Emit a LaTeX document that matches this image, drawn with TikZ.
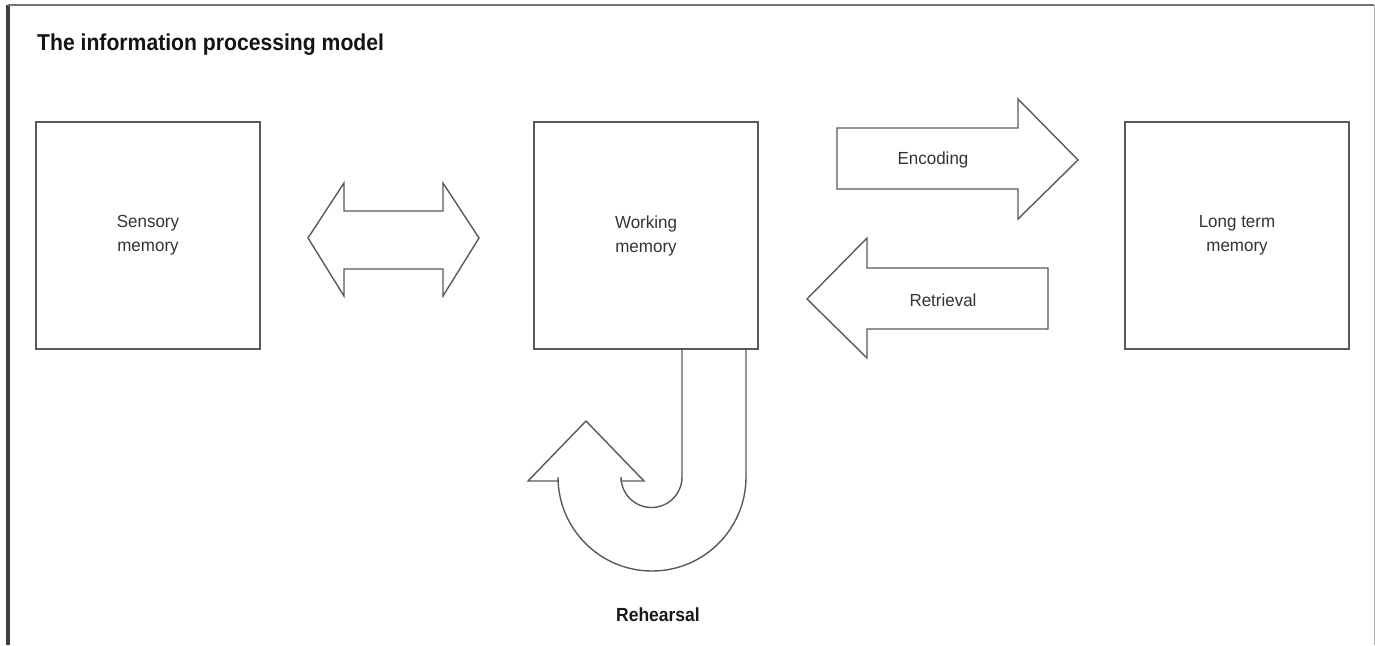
\documentclass[tikz,border=0pt]{standalone}
\usepackage{fontspec}
\setmainfont{Liberation Sans}
\newfontfamily\labfont[FakeStretch=0.97]{Liberation Sans}
\newfontfamily\boldcond[FakeStretch=0.92]{Liberation Sans Bold}
\begin{document}
\begin{tikzpicture}[x=1pt,y=-1pt,
  shapeline/.style={draw=black!65,line width=1.4pt,line join=miter},
  memorybox/.style={shapeline,minimum width=224pt,minimum height=227pt,inner sep=0pt,
     align=center,font=\labfont\fontsize{17.5}{24}\selectfont,text=black!80},
  lab/.style={font=\labfont\fontsize{17.5}{24}\selectfont,text=black!80,inner sep=0pt},
  boldlab/.style={font=\boldcond\fontsize{19}{22}\selectfont,text=black!90,inner sep=0pt}]
\useasboundingbox (0,0) rectangle (1375,645);
% frame
\fill[black!75] (6,5) rectangle (10,645);
\draw[black!55,line width=1.2pt] (8,5) -- (1374,5);
\draw[black!30,line width=1pt] (1374,5) -- (1374,645);
% title
\node[anchor=base west,inner sep=0pt,font=\boldcond\fontsize{23}{26}\selectfont,text=black!92] (title) at (37,50) {The information processing model};
% boxes
\node[memorybox] (sensory) at (148,235.5) {Sensory\\memory};
\node[memorybox] (working) at (646,235.5) {Working\\memory};
\node[memorybox] (longterm) at (1237,235.5) {Long term\\memory};
% double arrow
\draw[shapeline] (308,238) -- (344,183) -- (344,211) -- (443,211) -- (443,183) -- (479,238)
  -- (443,296) -- (443,269) -- (344,269) -- (344,296) -- cycle;
% encoding arrow
\draw[shapeline] (837,128) -- (1018,128) -- (1018,99) -- (1078,160) -- (1018,219) -- (1018,189) -- (837,189) -- cycle;
\node[lab] (enc) at (933,160) {Encoding};
% retrieval arrow
\draw[shapeline] (1048,268) -- (867,268) -- (867,238) -- (807,299) -- (867,358) -- (867,329) -- (1048,329) -- cycle;
\node[lab] (ret) at (943,300) {Retrieval};
% rehearsal arrow
\draw[shapeline] (746,348) -- (746,477) arc[start angle=0,end angle=180,radius=94]
  -- (558,481) -- (528,481) -- (586,421) -- (644,481) -- (621,481) -- (621,477)
  arc[start angle=180,end angle=0,radius=30.5] -- (682,348);
\node[boldlab] (reh) at (658,615) {Rehearsal};
\end{tikzpicture}
\end{document}
